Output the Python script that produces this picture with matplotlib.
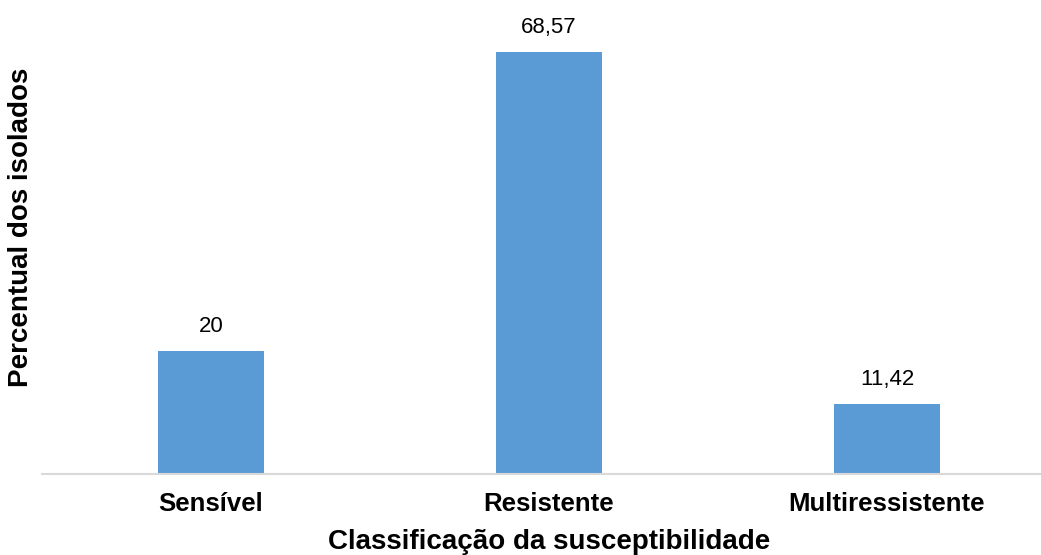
import matplotlib
matplotlib.use("Agg")
import matplotlib.pyplot as plt

categories = ["Sensível", "Resistente", "Multiressistente"]
values = [20, 68.57, 11.42]
value_labels = ["20", "68,57", "11,42"]

plt.rcParams["font.family"] = ["Liberation Sans", "DejaVu Sans"]

W, H = 1041, 555
fig = plt.figure(figsize=(W / 100, H / 100), dpi=100)

# plot area in pixel terms (right edge runs past the canvas)
left_px, right_px = 42, 1056
base_px, top_px = 474, 43
ax = fig.add_axes([left_px / W, (H - base_px) / H,
                   (right_px - left_px) / W, (base_px - top_px) / H])

x = range(len(categories))
bars = ax.bar(x, values, width=0.3125, color="#5b9bd5", zorder=2)
ax.set_xlim(-0.5, 2.5)
ax.set_ylim(0, 70)

for b, lab in zip(bars, value_labels):
    ax.annotate(lab, (b.get_x() + b.get_width() / 2, b.get_height()),
                xytext=(0, 10), textcoords="offset points",
                ha="center", va="bottom", fontsize=16, color="#000000",
                annotation_clip=False)

ax.set_xticks(list(x))
ax.set_xticklabels(categories, fontsize=18.5, fontweight="bold")
ax.tick_params(axis="x", length=0, pad=13)
ax.set_yticks([])
for s in ["top", "right", "left"]:
    ax.spines[s].set_visible(False)
ax.spines["bottom"].set_color("#d9d9d9")
ax.spines["bottom"].set_linewidth(1.5)

x_mid = (left_px + right_px) / 2 / W
fig.text(x_mid, 1 - 549 / H, "Classificação da susceptibilidade",
         ha="center", va="baseline", fontsize=20, fontweight="bold")
fig.text(21 / W, 1 - 227 / H, "Percentual dos isolados", rotation=90,
         ha="center", va="center", fontsize=20, fontweight="bold")

fig.savefig("out.png", dpi=100)
